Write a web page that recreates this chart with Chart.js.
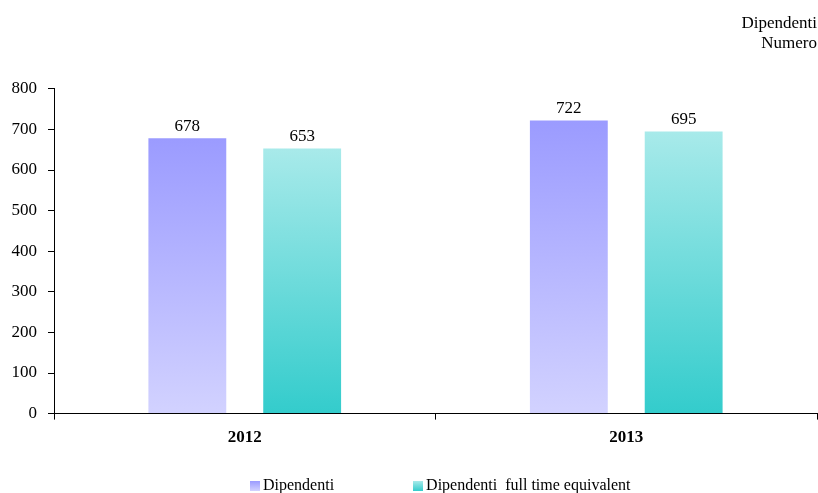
<!DOCTYPE html>
<html>
<head>
<meta charset="utf-8">
<script src="https://cdn.jsdelivr.net/npm/chart.js@4.4.0/dist/chart.umd.min.js"></script>
<style>
    html, body { margin: 0; padding: 0; background: #fff; }
    #wrap { position: relative; width: 818px; height: 493px; }
    #legend {
        position: absolute; left: 250px; top: 476px;
        display: flex; gap: 79px;
        font-family: 'Liberation Serif', 'Times New Roman', serif; font-size: 16px; color: #000;
        line-height: 18px;
    }
    .item { display: flex; align-items: center; white-space: pre; }
    .box { width: 10px; height: 10px; margin-right: 3px; margin-top: 1px; }
</style>
</head>
<body>
<div id="wrap">
    <canvas id="chart" width="818" height="493"></canvas>
    <div id="legend"></div>
</div>
<script>
const years = ['2012', '2013'];
const dipendenti = [678, 722];
const dipendentiFte = [653, 695];
const seriesNames = ['Dipendenti', 'Dipendenti  full time equivalent'];
const yTicks = [0, 100, 200, 300, 400, 500, 600, 700, 800];

// gradient stops: [top of bar, bottom of bar]
const blueStops = ['#9b9bff', '#d2d2ff'];
const tealStops = ['#a8eaea', '#33cccc'];

const FONT = "'Liberation Serif', 'Times New Roman', serif";

function barGradient(stops, fallback) {
    return (c) => {
        const chart = c.chart;
        if (!chart.chartArea || c.raw === undefined) return fallback;
        const y = chart.scales.y;
        const top = y.getPixelForValue(c.raw);
        const base = y.getPixelForValue(0);
        const g = chart.ctx.createLinearGradient(0, top, 0, base);
        g.addColorStop(0, stops[0]);
        g.addColorStop(1, stops[1]);
        return g;
    };
}

// value labels above bars
const valueLabels = {
    id: 'valueLabels',
    afterDatasetsDraw(chart) {
        const ctx = chart.ctx;
        ctx.save();
        ctx.font = '17px ' + FONT;
        ctx.fillStyle = '#000';
        ctx.textAlign = 'center';
        ctx.textBaseline = 'alphabetic';
        chart.data.datasets.forEach((ds, i) => {
            chart.getDatasetMeta(i).data.forEach((el, j) => {
                ctx.fillText(ds.data[j], el.x, el.y - 7);
            });
        });
        ctx.restore();
    }
};

new Chart(document.getElementById('chart'), {
    type: 'bar',
    data: {
        labels: years,
        datasets: [
            { label: seriesNames[0], data: dipendenti, backgroundColor: barGradient(blueStops, blueStops[0]), categoryPercentage: 0.602, barPercentage: 0.678 },
            { label: seriesNames[1], data: dipendentiFte, backgroundColor: barGradient(tealStops, tealStops[1]), categoryPercentage: 0.602, barPercentage: 0.678 }
        ]
    },
    options: {
        responsive: false,
        animation: false,
        layout: { padding: { left: 0, right: 1, top: 0, bottom: 37 } },
        plugins: {
            legend: { display: false },
            tooltip: { enabled: false },
            title: {
                display: true,
                align: 'end',
                text: ['Dipendenti', 'Numero'],
                color: '#000',
                font: { family: FONT, size: 17, weight: 'normal', lineHeight: 1.2 },
                padding: { top: 13, bottom: 35 }
            }
        },
        scales: {
            x: {
                offset: true,
                grid: { offset: true, drawOnChartArea: false, drawTicks: true, tickLength: 6, color: '#000' },
                border: { display: true, color: '#000', width: 1 },
                ticks: { color: '#000', padding: 8, font: { family: FONT, size: 17, weight: 'bold' } }
            },
            y: {
                min: 0,
                max: 800,
                afterFit: s => { s.width = 54; },
                afterBuildTicks: s => { s.ticks = yTicks.map(v => ({ value: v })); },
                grid: { drawOnChartArea: false, drawTicks: true, tickLength: 6, color: '#000' },
                border: { display: true, color: '#000', width: 1 },
                ticks: { color: '#000', padding: 11, font: { family: FONT, size: 17 } }
            }
        }
    },
    plugins: [valueLabels]
});

// legend
const legend = document.getElementById('legend');
[blueStops, tealStops].forEach((stops, i) => {
    const item = document.createElement('div');
    item.className = 'item';
    const box = document.createElement('span');
    box.className = 'box';
    box.style.background = `linear-gradient(${stops[0]}, ${stops[1]})`;
    const txt = document.createElement('span');
    txt.textContent = seriesNames[i];
    item.appendChild(box);
    item.appendChild(txt);
    legend.appendChild(item);
});
</script>
</body>
</html>
